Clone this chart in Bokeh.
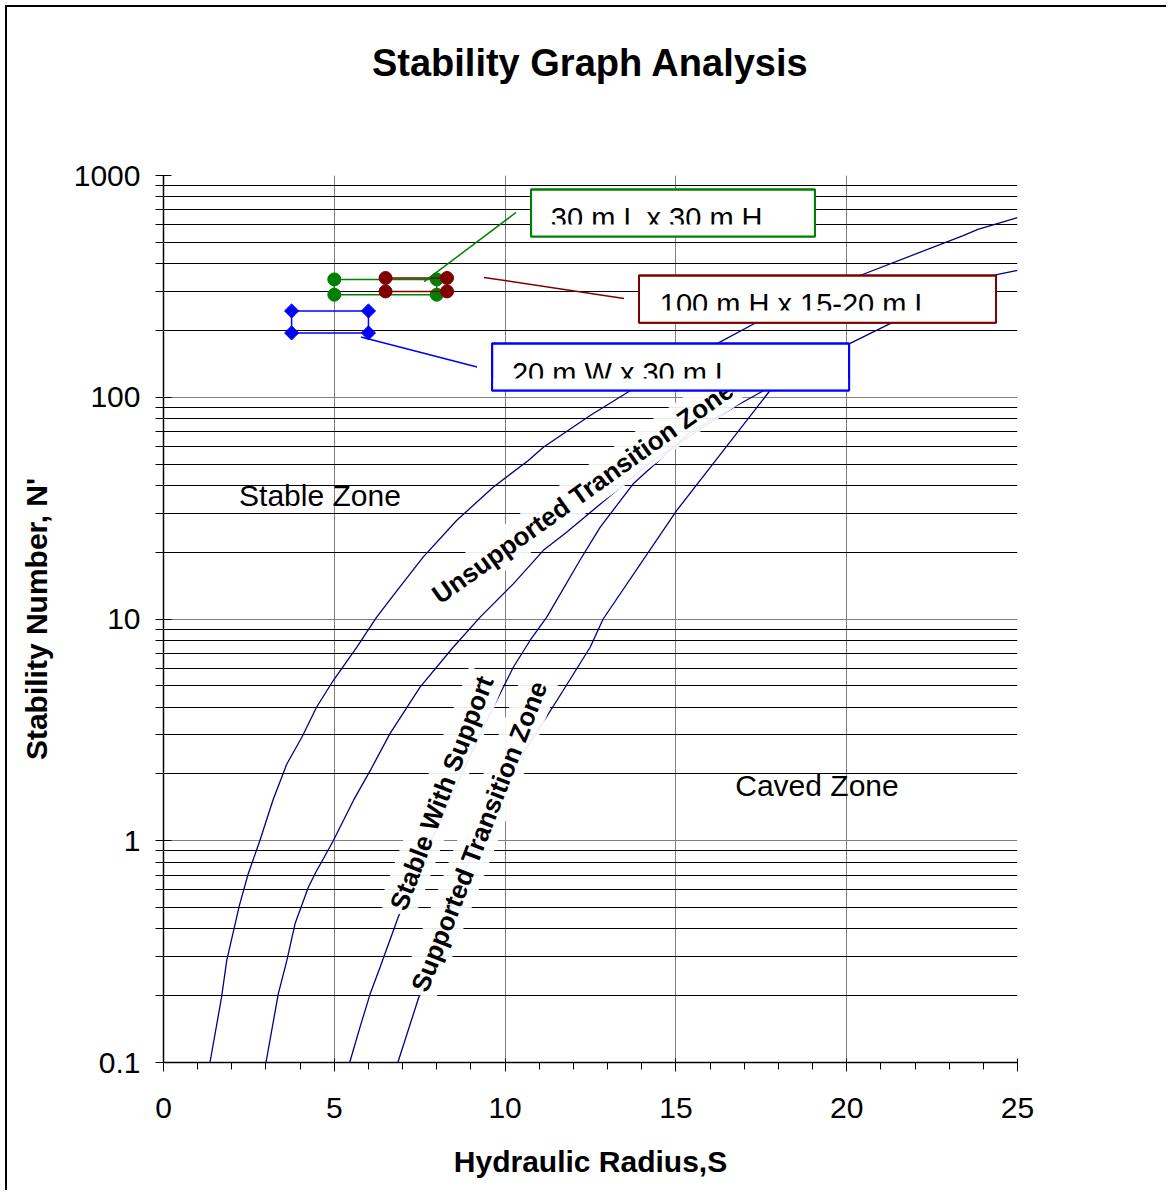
import math
from bokeh.plotting import figure
from bokeh.models import (Range1d, SingleIntervalTicker, FixedTicker, CustomJSTickFormatter,
                          Label, BoxAnnotation, LinearAxis)
from bokeh.embed import file_html
from bokeh.resources import INLINE

FONT = "Liberation Sans"

# ---- boundary curves (hydraulic radius S, stability number N') ----
curve1_x = [1.36, 1.70, 1.85, 2.22, 2.48, 2.82, 3.20, 3.61, 4.05, 4.48, 4.97, 5.66, 6.24, 6.83,
            7.60, 8.58, 9.65, 10.68, 11.12, 12.49, 13.66, 16.19, 17.37, 20.39, 23.41, 23.84, 25.0]
curve1_y = [0.1, 0.197, 0.288, 0.51, 0.71, 1.0, 1.52, 2.22, 2.93, 4.0, 5.28, 7.46, 10.2, 13.4,
            19.0, 27.8, 39.3, 51.9, 59.5, 82.7, 107, 174, 218, 354, 536, 571, 645]

curve2_x = [3.0, 3.36, 3.61, 3.85, 4.24, 4.46, 4.97, 5.56, 6.05, 6.63, 7.51, 8.48, 9.27, 10.24,
            11.12, 11.80, 14.24, 16.68, 17.56, 20.10, 21.36, 24.39, 25.0]
curve2_y = [0.1, 0.204, 0.288, 0.422, 0.617, 0.721, 1.0, 1.52, 2.07, 3.04, 4.93, 7.46, 10.2, 14.4,
            20.4, 24.6, 50.8, 89.9, 107, 175, 218, 357, 373]

curve3_x = [5.45, 5.75, 6.05, 6.34, 6.87, 7.51, 8.24, 8.91, 9.56, 10.24, 10.73, 11.22, 12.19,
            12.78, 13.75, 15.41, 16.68]
curve3_y = [0.1, 0.144, 0.204, 0.269, 0.452, 0.773, 1.37, 2.30, 3.74, 6.06, 8.0, 10.2, 18.4,
            25.9, 40.7, 69.3, 89.9]

curve4_x = [6.86, 7.46, 8.09, 8.83, 9.56, 10.23, 10.93, 11.70, 12.49, 12.87, 15.02, 17.75]
curve4_y = [0.1, 0.194, 0.374, 0.734, 1.37, 2.12, 3.09, 4.76, 7.46, 10.0, 30.8, 107]

# ---- case study points ----
green_x = [5.0, 8.0, 8.0, 5.0]
green_y = [340, 340, 290, 290]
red_x = [6.5, 8.3, 8.3, 6.5]
red_y = [345, 345, 300, 300]
blue_x = [3.75, 6.0, 6.0, 3.75]
blue_y = [245, 245, 195, 195]

title_text = "Stability Graph Analysis"
green_label = "30 m L  x 30 m H"
red_label = "100 m H x 15-20 m L"
blue_label = "20 m W x 30 m L"

# leader lines of the callouts
green_lead_x, green_lead_y = [7.63, 10.32], [332, 681]
red_lead_x, red_lead_y = [9.38, 13.48], [347, 279]
blue_lead_x, blue_lead_y = [5.78, 9.18], [187, 137]

x_ticks = [0, 5, 10, 15, 20, 25]
y_ticks = [0.1, 1, 10, 100, 1000]

NAVY = "#000080"
GREEN = "#008000"
DARKRED = "#800000"
BLUE = "#0000FF"

p = figure(width=1161, height=1185, x_range=Range1d(0, 25), y_range=Range1d(0.1, 1000),
           y_axis_type="log", output_backend="svg", toolbar_location=None,
           min_border_left=156, min_border_right=151, min_border_top=168, min_border_bottom=130)
p.styles = {"margin-left": "5px", "margin-top": "5px",
            "border-left": "2px solid #000", "border-top": "2px solid #000"}
p.outline_line_color = None
p.background_fill_color = "white"
p.border_fill_color = "white"

# chart title: carried by a tick-less axis above the plot area
ta = LinearAxis(ticker=FixedTicker(ticks=[]), axis_label=title_text)
ta.axis_line_color = None
ta.major_tick_line_color = None
ta.minor_tick_line_color = None
ta.major_tick_in = 0
ta.major_tick_out = 0
ta.minor_tick_in = 0
ta.minor_tick_out = 0
ta.major_label_standoff = 0
ta.axis_label_standoff = 92
ta.axis_label_text_font = FONT
ta.axis_label_text_font_size = "38px"
ta.axis_label_text_font_style = "bold"
ta.axis_label_text_color = "black"
p.add_layout(ta, "above")

# x axis
xa = p.below[0]
xa.ticker = SingleIntervalTicker(interval=5, num_minor_ticks=5)
xa.axis_label = "Hydraulic Radius,S"
xa.axis_label_text_font = FONT
xa.axis_label_text_font_size = "30px"
xa.axis_label_text_font_style = "bold"
xa.axis_label_text_color = "black"
xa.axis_label_standoff = 24
xa.major_label_text_font = FONT
xa.major_label_text_font_size = "30px"
xa.major_label_text_color = "black"
xa.major_label_standoff = 26
xa.axis_line_color = "black"
xa.axis_line_width = 1.5
xa.major_tick_line_color = "black"
xa.minor_tick_line_color = "black"
xa.major_tick_in = 4
xa.major_tick_out = 9
xa.minor_tick_in = 0
xa.minor_tick_out = 7

# y axis
minor = [m * 10.0 ** e for e in range(-1, 3) for m in range(2, 10)]
ya = p.yaxis[0]
ya.ticker = FixedTicker(ticks=y_ticks, minor_ticks=minor)
ya.formatter = CustomJSTickFormatter(code="return tick < 1 ? tick.toFixed(1) : tick.toFixed(0);")
ya.axis_label = "Stability Number, N'"
ya.axis_label_text_font = FONT
ya.axis_label_text_font_size = "30px"
ya.axis_label_text_font_style = "bold"
ya.axis_label_text_color = "black"
ya.axis_label_standoff = 18
ya.major_label_text_font = FONT
ya.major_label_text_font_size = "30px"
ya.major_label_text_color = "black"
ya.major_label_standoff = 15
ya.axis_line_color = "black"
ya.axis_line_width = 1.5
ya.major_tick_line_color = "black"
ya.minor_tick_line_color = "black"
ya.major_tick_in = 8
ya.major_tick_out = 8
ya.minor_tick_in = 0
ya.minor_tick_out = 8

# grids
p.xgrid.grid_line_color = "#808080"
p.xgrid.grid_line_width = 1
p.ygrid.grid_line_color = "#808080"
p.ygrid.grid_line_width = 1
p.ygrid.minor_grid_line_color = "black"
p.ygrid.minor_grid_line_width = 1

# boundary curves
for cx, cy in [(curve1_x, curve1_y), (curve2_x, curve2_y), (curve3_x, curve3_y), (curve4_x, curve4_y)]:
    p.line(cx, cy, line_color=NAVY, line_width=1.3)

# case data: closed outlines and markers
def closed(a):
    return list(a) + [a[0]]

p.line(closed(green_x), closed(green_y), line_color=GREEN, line_width=1.5)
p.scatter(green_x, green_y, marker="circle", size=13, color=GREEN)
p.line(closed(red_x), closed(red_y), line_color=DARKRED, line_width=1.5)
p.scatter(red_x, red_y, marker="circle", size=13, color=DARKRED)
p.line(closed(blue_x), closed(blue_y), line_color=BLUE, line_width=1.5)
p.scatter(blue_x, blue_y, marker="square", angle=math.pi / 4, size=10, color=BLUE)

# leader lines
p.line(green_lead_x, green_lead_y, line_color=GREEN, line_width=1.5)
p.line(red_lead_x, red_lead_y, line_color=DARKRED, line_width=1.5)
p.line(blue_lead_x, blue_lead_y, line_color=BLUE, line_width=1.5)

# zone labels
def zone(x, y, text, angle_deg=0, bold=False, bg=False):
    lab = Label(x=x, y=y, text=text, angle=math.radians(angle_deg), angle_units="rad",
                text_align="center", text_baseline="middle", text_font=FONT,
                text_font_size="26px" if bold else "30px",
                text_font_style="bold" if bold else "normal", text_color="black")
    if bg:
        lab.background_fill_color = "white"
        lab.background_fill_alpha = 0.92
        lab.padding = 4
    p.add_layout(lab)

zone(4.58, 36.1, "Stable Zone")
zone(19.13, 1.77, "Caved Zone")
zone(12.27, 37.3, "Unsupported Transition Zone", 35.5, bold=True, bg=True)
zone(8.14, 1.64, "Stable With Support", 69.2, bold=True, bg=True)
zone(9.24, 1.045, "Supported Transition Zone", 68.6, bold=True, bg=True)

# callout boxes (text clipped at the bottom as in the original)
def callout(left, right, top, bottom, color, text, tx, ty, clip_top, clip_bottom):
    p.add_layout(BoxAnnotation(left=left, right=right, top=top, bottom=bottom,
                               fill_color="white", fill_alpha=1.0,
                               line_color=color, line_alpha=1.0, line_width=2))
    p.add_layout(Label(x=tx, y=ty, text=text, text_align="left", text_baseline="alphabetic",
                       text_font=FONT, text_font_size="29px", text_color="black"))
    p.add_layout(BoxAnnotation(left=left, right=right, top=clip_top, bottom=clip_bottom,
                               fill_color="white", fill_alpha=1.0, line_color=None))
    p.add_layout(BoxAnnotation(left=left, right=right, top=top, bottom=bottom,
                               fill_color=None, fill_alpha=0, line_color=color,
                               line_alpha=1.0, line_width=2))

callout(10.76, 19.07, 865, 531, GREEN, green_label, 11.34, 640, 601, 533)
callout(13.92, 24.37, 354, 217, DARKRED, red_label, 14.53, 262, 246, 218.5)
callout(9.62, 20.07, 174.8, 107.3, BLUE, blue_label, 10.20, 129.3, 121.5, 108.0)

open("out.html", "w").write(file_html(p, INLINE))
